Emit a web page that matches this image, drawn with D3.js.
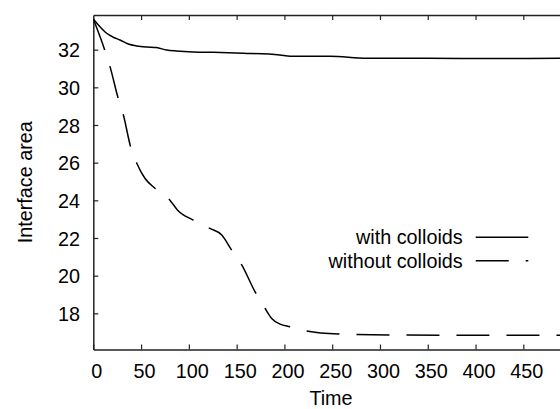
<!DOCTYPE html>
<html>
<head>
<meta charset="utf-8">
<script src="https://cdn.jsdelivr.net/npm/d3@7"></script>
<style>
  html, body { margin: 0; padding: 0; background: #fff; }
  svg text { font-family: "Liberation Sans", Arial, Helvetica, sans-serif; fill: #000; }
</style>
</head>
<body>
<svg id="chart" width="560" height="409"></svg>
<script>
// ---- data ----
const withTime = [0, 14, 21, 28, 36.6, 45.4, 55.9, 66, 76.7, 87, 104.6, 125.6, 157, 195, 206, 247.7, 286, 350, 420, 500];
const withArea = [33.63, 32.87, 32.66, 32.51, 32.30, 32.20, 32.14, 32.11, 31.98, 31.93, 31.88, 31.86, 31.81, 31.72, 31.65, 31.65, 31.54, 31.54, 31.53, 31.54];

const withoutTime = [0, 12, 17.5, 26, 31.5, 39, 45.5, 54, 64.5, 80, 88, 104.6, 122, 134.4, 144.8, 155.3, 169.2, 179.7, 186.7, 195.4, 205.8, 223.3, 256.4, 310, 400, 500];
const withoutArea = [33.63, 31.98, 31.1, 29.42, 28.53, 26.85, 25.97, 25.17, 24.64, 24.02, 23.49, 22.95, 22.51, 22.16, 21.36, 20.57, 19.15, 18.27, 17.73, 17.43, 17.29, 17.06, 16.90, 16.85, 16.84, 16.84];

const xTicks = [0, 50, 100, 150, 200, 250, 300, 350, 400, 450];
const yTicks = [18, 20, 22, 24, 26, 28, 30, 32];
const seriesNames = ["with colloids", "without colloids"];
const xLabel = "Time";
const yLabel = "Interface area";

// ---- layout ----
const svg = d3.select("#chart");
const pLeft = 93.3, pRight = 571.1, pTop = 15, pBottom = 349.5;
const fontSize = 19.8;
const axisColor = "#222";

const x = d3.scaleLinear().domain([0, 500]).range([pLeft, pRight]);
const y = d3.scaleLinear().domain([16.08, 33.84]).range([pBottom, pTop]);

svg.append("defs").append("clipPath").attr("id", "plotclip")
  .append("rect").attr("x", pLeft).attr("y", pTop).attr("width", pRight - pLeft).attr("height", pBottom - pTop);

// bottom axis
const gx = svg.append("g").attr("transform", `translate(0,${pBottom})`)
  .call(d3.axisBottom(x).tickValues(xTicks).tickSize(-5).tickSizeOuter(0).tickFormat(d3.format("d")));
gx.selectAll("text").attr("y", 28).attr("dy", null).attr("dx", 3)
  .style("font-size", fontSize + "px").attr("fill", "#000");

// top axis (ticks only)
const gt = svg.append("g").attr("transform", `translate(0,${pTop})`)
  .call(d3.axisTop(x).tickValues(xTicks.filter(d => d > 0)).tickSize(-5).tickSizeOuter(0).tickFormat(""));

// left axis
const gy = svg.append("g").attr("transform", `translate(${pLeft},0)`)
  .call(d3.axisLeft(y).tickValues(yTicks).tickSize(-5).tickSizeOuter(0).tickFormat(d3.format("d")));
gy.selectAll("text").attr("x", -13.3).attr("dy", "0.36em")
  .style("font-size", fontSize + "px").attr("fill", "#000");

[gx, gt, gy].forEach(g => {
  g.select(".domain").attr("stroke", axisColor).attr("stroke-width", 1.5);
  g.selectAll(".tick line").attr("stroke", axisColor).attr("stroke-width", 1.2);
  g.attr("font-family", null).attr("font-size", null);
});

// axis titles
svg.append("text").attr("x", 331).attr("y", 405).attr("text-anchor", "middle")
  .style("font-size", fontSize + "px").text(xLabel);
svg.append("text").attr("transform", `translate(31.5,${(pTop + pBottom) / 2}) rotate(-90)`)
  .attr("text-anchor", "middle").style("font-size", fontSize + "px").text(yLabel);

// lines
const line = d3.line().x(d => x(d[0])).y(d => y(d[1])).curve(d3.curveMonotoneX);
const plot = svg.append("g").attr("clip-path", "url(#plotclip)");
const withData = withTime.map((t, i) => [t, withArea[i]]);
const withoutData = withoutTime.map((t, i) => [t, withoutArea[i]]);

plot.append("path").datum(withData).attr("d", line)
  .attr("fill", "none").attr("stroke", "#000").attr("stroke-width", 1.5);
plot.append("path").datum(withoutData).attr("d", line)
  .attr("fill", "none").attr("stroke", "#000").attr("stroke-width", 1.5)
  .attr("stroke-dasharray", "33,17");

// legend
const legend = svg.append("g");
const legY = [244.3, 267.7];
const dashes = [null, "33,17"];
seriesNames.forEach((name, i) => {
  legend.append("text").attr("x", 462.7).attr("y", legY[i]).attr("text-anchor", "end")
    .style("font-size", fontSize + "px").text(name);
  legend.append("line").attr("x1", 475.7).attr("x2", 528.3)
    .attr("y1", legY[i] - 7).attr("y2", legY[i] - 7)
    .attr("stroke", "#000").attr("stroke-width", 1.5)
    .attr("stroke-dasharray", dashes[i]);
});
</script>
</body>
</html>
